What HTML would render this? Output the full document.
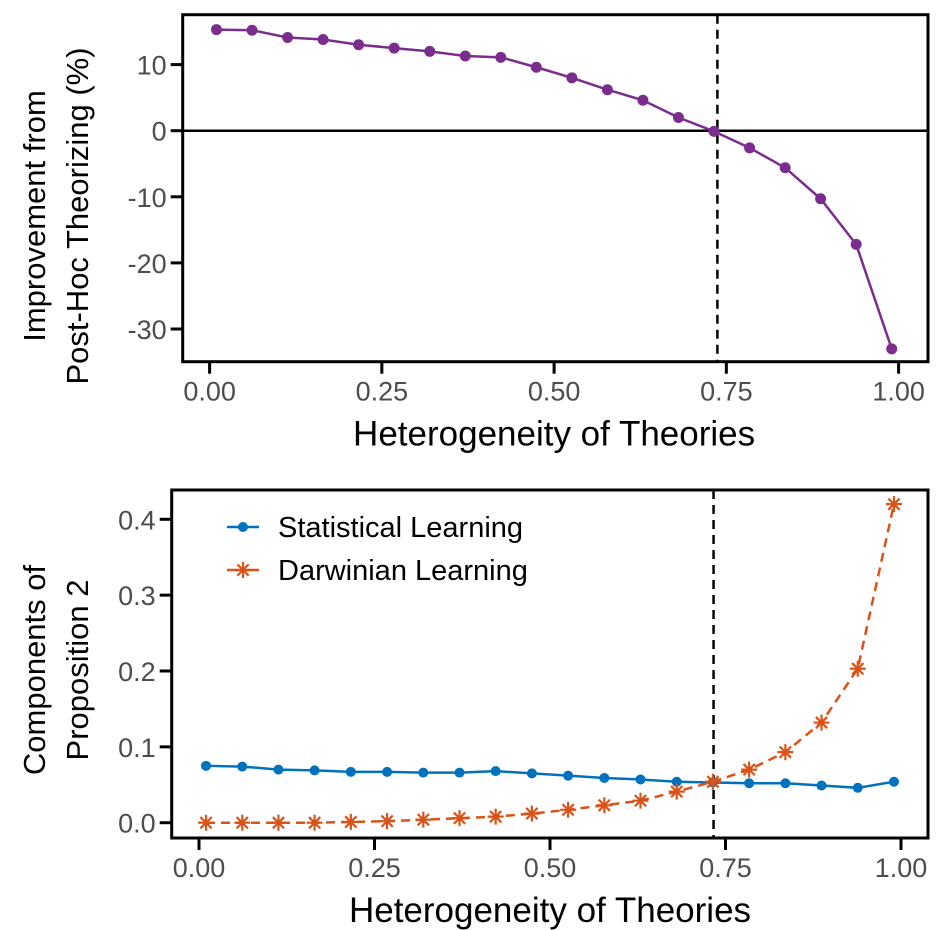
<!DOCTYPE html>
<html><head><meta charset="utf-8"><style>
html,body{margin:0;padding:0;background:#fff;}
svg{display:block;font-family:"Liberation Sans",Arial,sans-serif;}
</style></head><body>
<svg id="c" width="939" height="930" viewBox="0 0 939 930" xmlns="http://www.w3.org/2000/svg"></svg>
<script>
const xVals=[0.01,0.0616,0.1132,0.1647,0.2163,0.2679,0.3195,0.3711,0.4226,0.4742,0.5258,0.5774,0.6289,0.6805,0.7321,0.7837,0.8353,0.8868,0.9384,0.99];
const improvement=[15.3,15.2,14.1,13.8,13.0,12.5,12.0,11.3,11.1,9.6,8.0,6.2,4.6,2.0,-0.1,-2.6,-5.6,-10.3,-17.2,-33.0];
const statLearning=[0.075,0.074,0.070,0.069,0.067,0.067,0.066,0.066,0.068,0.065,0.062,0.059,0.057,0.054,0.053,0.052,0.052,0.049,0.046,0.054];
const darwinLearning=[0,0,0,0,0.001,0.002,0.004,0.006,0.008,0.012,0.017,0.023,0.029,0.041,0.054,0.070,0.093,0.132,0.203,0.420];
const xTicks=[0,0.25,0.5,0.75,1];
const xTickLabels=["0.00","0.25","0.50","0.75","1.00"];
const topYTicks=[10,0,-10,-20,-30];
const topYTickLabels=["10","0","-10","-20","-30"];
const botYTicks=[0,0.1,0.2,0.3,0.4];
const botYTickLabels=["0.0","0.1","0.2","0.3","0.4"];
const topCut=0.737, botCut=0.733;

const NS="http://www.w3.org/2000/svg", svg=document.getElementById('c');
function mk(t,a,p){const e=document.createElementNS(NS,t);for(const k in a)e.setAttribute(k,a[k]);(p||svg).appendChild(e);return e;}
const tx1=v=>209.6+v*689, ty1=v=>130.7-v*6.61;
const tx2=v=>199+v*702, ty2=v=>822.7-v*758.5;

function axes(g,tx,ty,left,top,right,bottom,yt,ytl,xTitle,yTitle,yTitleX,yTitleCy){
  let f=mk('rect',{x:left,y:top,width:right-left,height:bottom-top,fill:'none',stroke:'#000','stroke-width':3},g);
  
  xTicks.forEach((v,i)=>{
    let l=mk('line',{x1:tx(v),x2:tx(v),y1:bottom,y2:bottom+12,stroke:'#000','stroke-width':3},g);
    
    let t=mk('text',{x:tx(v),y:bottom+39,'text-anchor':'middle','font-size':27,fill:'#4d4d4d'},g);t.textContent=xTickLabels[i];
    
  });
  yt.forEach((v,i)=>{
    let l=mk('line',{x1:left-12,x2:left,y1:ty(v),y2:ty(v),stroke:'#000','stroke-width':3},g);
    
    let t=mk('text',{x:left-16,y:ty(v)+10,'text-anchor':'end','font-size':27,fill:'#4d4d4d'},g);t.textContent=ytl[i];
    
  });
  let xt=mk('text',{x:(tx(0)+tx(1))/2,y:bottom+84,'text-anchor':'middle','font-size':35,fill:'#000'},g);xt.textContent=xTitle;
  
  yTitle.forEach((s,i)=>{
    const cy=yTitleCy, x=yTitleX[i];
    let t=mk('text',{x:x,y:cy,'text-anchor':'middle','font-size':31,fill:'#000',transform:`rotate(-90 ${x} ${cy})`},g);t.textContent=s;
    
  });
}
// top panel
const g1=mk('g',{});
axes(g1,tx1,ty1,182.7,14.7,928,361.7,topYTicks,topYTickLabels,'Heterogeneity of Theories',['Improvement from','Post-Hoc Theorizing (%)'],[45,88],216);
let z=mk('line',{x1:182.7,x2:928,y1:ty1(0),y2:ty1(0),stroke:'#000','stroke-width':2.5},g1);
let d1=mk('line',{x1:tx1(topCut),x2:tx1(topCut),y1:14.7,y2:361.7,stroke:'#000','stroke-width':2.5,'stroke-dasharray':'9,6'},g1);
let p1=mk('polyline',{points:xVals.map((x,i)=>tx1(x)+','+ty1(improvement[i])).join(' '),fill:'none',stroke:'#7b2d8e','stroke-width':2.5},g1);

xVals.forEach((x,i)=>{let c=mk('circle',{cx:tx1(x),cy:ty1(improvement[i]),r:5.5,fill:'#7b2d8e'},g1);});

// bottom panel
const g2=mk('g',{});
axes(g2,tx2,ty2,171.7,490,928,838,botYTicks,botYTickLabels,'Heterogeneity of Theories',['Components of','Proposition 2'],[45,88],670);
let d2=mk('line',{x1:tx2(botCut),x2:tx2(botCut),y1:490,y2:838,stroke:'#000','stroke-width':2.5,'stroke-dasharray':'9,6'},g2);
let p2=mk('polyline',{points:xVals.map((x,i)=>tx2(x)+','+ty2(statLearning[i])).join(' '),fill:'none',stroke:'#0072bd','stroke-width':2.5},g2);

xVals.forEach((x,i)=>{let c=mk('circle',{cx:tx2(x),cy:ty2(statLearning[i]),r:5,fill:'#0072bd'},g2);});
let p3=mk('polyline',{points:xVals.map((x,i)=>tx2(x)+','+ty2(darwinLearning[i])).join(' '),fill:'none',stroke:'#d95319','stroke-width':2.5,'stroke-dasharray':'9,6'},g2);

function star(cx,cy,g){const s=mk('g',{stroke:'#d95319','stroke-width':2.2},g);
  for(let a=0;a<180;a+=45){const r=a*Math.PI/180,dx=Math.sin(r)*8,dy=Math.cos(r)*8;mk('line',{x1:cx-dx,y1:cy-dy,x2:cx+dx,y2:cy+dy},s);}return s;}
xVals.forEach((x,i)=>{let s=star(tx2(x),ty2(darwinLearning[i]),g2);});
// legend
const lg=mk('g',{},g2);
let e1=mk('g',{},lg);
mk('line',{x1:227,x2:259,y1:527,y2:527,stroke:'#0072bd','stroke-width':2.5},e1);mk('circle',{cx:243,cy:527,r:5,fill:'#0072bd'},e1);
let t1=mk('text',{x:278,y:537,'font-size':29,fill:'#000'},e1);t1.textContent='Statistical Learning';
let e2=mk('g',{},lg);
mk('line',{x1:227,x2:259,y1:570,y2:570,stroke:'#d95319','stroke-width':2.5},e2);star(243,570,e2);
let t2=mk('text',{x:278,y:580,'font-size':29,fill:'#000'},e2);t2.textContent='Darwinian Learning';
</script>
</body></html>
